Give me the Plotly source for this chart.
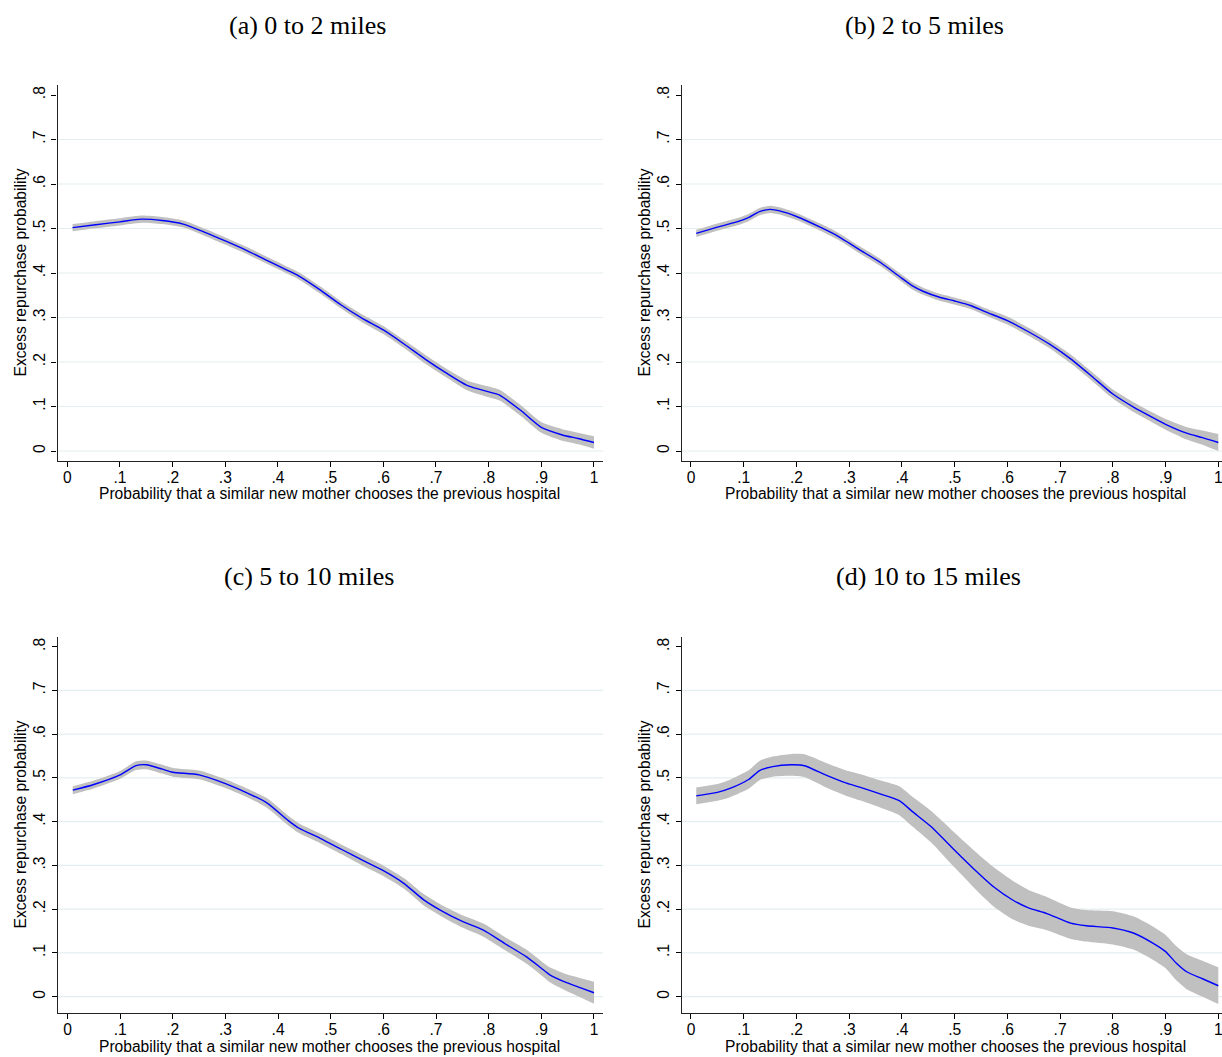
import plotly.graph_objects as go

W, H = 1222, 1057

panel_titles = ["(a) 0 to 2 miles", "(b) 2 to 5 miles", "(c) 5 to 10 miles", "(d) 10 to 15 miles"]
x_title = "Probability that a similar new mother chooses the previous hospital"
y_title = "Excess repurchase probability"
x_tickvals = [0, .1, .2, .3, .4, .5, .6, .7, .8, .9, 1]
x_ticktext = ["0", ".1", ".2", ".3", ".4", ".5", ".6", ".7", ".8", ".9", "1"]
y_tickvals = [0, .1, .2, .3, .4, .5, .6, .7, .8]
y_ticktext = ["0", ".1", ".2", ".3", ".4", ".5", ".6", ".7", ".8"]
grid_vals = [0, .1, .2, .3, .4, .5, .6, .7]

# Panel (a) 0 to 2 miles
a_x = [0.01, 0.05, 0.10, 0.14, 0.18, 0.22, 0.26, 0.30, 0.34, 0.38, 0.42, 0.44, 0.48, 0.52,
       0.56, 0.60, 0.64, 0.68, 0.72, 0.76, 0.80, 0.82, 0.86, 0.90, 0.94, 0.97, 1.00]
a_y = [0.502, 0.508, 0.515, 0.521, 0.518, 0.510, 0.492, 0.472, 0.451, 0.428, 0.405, 0.393, 0.362, 0.328,
       0.298, 0.272, 0.240, 0.206, 0.175, 0.147, 0.133, 0.126, 0.092, 0.053, 0.036, 0.028, 0.019]
a_hw = [0.008, 0.008, 0.008, 0.008, 0.008, 0.008, 0.008, 0.008, 0.008, 0.008, 0.008, 0.008, 0.008, 0.008,
        0.009, 0.009, 0.009, 0.010, 0.010, 0.011, 0.012, 0.012, 0.012, 0.012, 0.013, 0.013, 0.014]

# Panel (b) 2 to 5 miles
b_x = [0.01, 0.05, 0.09, 0.11, 0.13, 0.15, 0.17, 0.20, 0.245, 0.28, 0.30, 0.32, 0.36, 0.40, 0.42, 0.44,
       0.47, 0.50, 0.53, 0.56, 0.60, 0.64, 0.68, 0.72, 0.76, 0.80, 0.84, 0.86, 0.90, 0.94, 0.97, 1.00]
b_y = [0.489, 0.503, 0.516, 0.525, 0.538, 0.543, 0.539, 0.527, 0.503, 0.482, 0.467, 0.452, 0.423, 0.388, 0.371, 0.359,
       0.346, 0.337, 0.327, 0.312, 0.293, 0.268, 0.240, 0.207, 0.168, 0.128, 0.098, 0.085, 0.060, 0.040, 0.030, 0.019]
b_hw = [0.008, 0.008, 0.008, 0.008, 0.008, 0.008, 0.008, 0.008, 0.008, 0.008, 0.008, 0.008, 0.008, 0.008, 0.008, 0.008,
        0.008, 0.008, 0.008, 0.008, 0.009, 0.009, 0.009, 0.010, 0.010, 0.010, 0.011, 0.011, 0.012, 0.014, 0.016, 0.019]

# Panel (c) 5 to 10 miles
c_x = [0.01, 0.05, 0.10, 0.13, 0.15, 0.18, 0.20, 0.25, 0.30, 0.35, 0.38, 0.42, 0.44, 0.48, 0.52, 0.56,
       0.60, 0.64, 0.676, 0.714, 0.75, 0.79, 0.83, 0.872, 0.90, 0.916, 0.948, 0.975, 1.00]
c_y = [0.472, 0.485, 0.507, 0.528, 0.530, 0.520, 0.513, 0.507, 0.487, 0.461, 0.442, 0.402, 0.385, 0.362, 0.337, 0.312,
       0.288, 0.258, 0.222, 0.194, 0.172, 0.152, 0.122, 0.091, 0.065, 0.050, 0.032, 0.020, 0.009]
c_hw = [0.009, 0.009, 0.009, 0.010, 0.010, 0.010, 0.010, 0.010, 0.010, 0.010, 0.011, 0.011, 0.011, 0.011, 0.011, 0.012,
        0.012, 0.012, 0.013, 0.013, 0.014, 0.015, 0.015, 0.016, 0.016, 0.017, 0.019, 0.022, 0.025]

# Panel (d) 10 to 15 miles
d_x = [0.01, 0.05, 0.074, 0.11, 0.13, 0.155, 0.19, 0.215, 0.255, 0.295, 0.32, 0.36, 0.395, 0.42, 0.455, 0.50,
       0.54, 0.575, 0.61, 0.64, 0.675, 0.72, 0.75, 0.80, 0.84, 0.875, 0.90, 0.92, 0.94, 0.97, 1.00]
d_y = [0.459, 0.467, 0.476, 0.497, 0.517, 0.526, 0.530, 0.528, 0.507, 0.488, 0.479, 0.463, 0.448, 0.423, 0.389, 0.335,
       0.288, 0.250, 0.221, 0.203, 0.190, 0.168, 0.162, 0.157, 0.145, 0.123, 0.103, 0.077, 0.057, 0.041, 0.025]
d_hw = [0.019, 0.019, 0.020, 0.021, 0.022, 0.023, 0.025, 0.026, 0.028, 0.029, 0.030, 0.031, 0.033, 0.034, 0.036, 0.040,
        0.043, 0.045, 0.044, 0.041, 0.038, 0.036, 0.036, 0.038, 0.038, 0.038, 0.038, 0.039, 0.040, 0.041, 0.042]

panels = [(a_x, a_y, a_hw), (b_x, b_y, b_hw), (c_x, c_y, c_hw), (d_x, d_y, d_hw)]

# layout geometry (pixels -> paper fractions)
x_domains = [[57.5 / W, 603.3 / W], [681.7 / W, 1.0], [57.7 / W, 603.3 / W], [681.7 / W, 1.0]]
y_domains = [[1 - 460.7 / H, 1 - 85 / H], [1 - 460.7 / H, 1 - 85 / H],
             [1 - 1013.3 / H, 1 - 637.3 / H], [1 - 1013.3 / H, 1 - 637.3 / H]]
x_ranges = [[-0.0186, 1.0177], [-0.0176, 1.007], [-0.0186, 1.0177], [-0.0176, 1.007]]
y_ranges = [[-0.0218, 0.8225], [-0.0218, 0.8225], [-0.038, 0.8215], [-0.038, 0.8215]]
title_pos = [(307, 26), (924, 26), (309, 576), (928, 576)]
xtitle_pos = [(329, 493), (955, 493), (329, 1046), (955, 1046)]
ytitle_pos = [(19.5, 273), (643.5, 273), (19.5, 825), (643.5, 825)]

BAND = "#c0c0c0"
LINE = "#0000ff"
GRID = "#e3eef0"
SANS = "Liberation Sans, Arial, sans-serif"
SERIF = "Liberation Serif, Times New Roman, serif"
FS = 15.6

fig = go.Figure()
layout = dict(width=W, height=H, margin=dict(l=0, r=0, t=0, b=0),
              paper_bgcolor="white", plot_bgcolor="white", showlegend=False)
shapes = []
annotations = []

for i, (px, py, phw) in enumerate(panels):
    n = i + 1
    xa = "x" if n == 1 else f"x{n}"
    ya = "y" if n == 1 else f"y{n}"
    lo = [v - h for v, h in zip(py, phw)]
    hi = [v + h for v, h in zip(py, phw)]
    fig.add_trace(go.Scatter(x=px, y=lo, mode="lines", line=dict(width=0, color=BAND, shape="spline", smoothing=0.6),
                             xaxis=xa, yaxis=ya, hoverinfo="skip"))
    fig.add_trace(go.Scatter(x=px, y=hi, mode="lines", fill="tonexty", fillcolor=BAND,
                             line=dict(width=0, color=BAND, shape="spline", smoothing=0.6),
                             xaxis=xa, yaxis=ya, hoverinfo="skip"))
    fig.add_trace(go.Scatter(x=px, y=py, mode="lines", line=dict(width=1.4, color=LINE, shape="spline", smoothing=0.6),
                             xaxis=xa, yaxis=ya))
    xkey = "xaxis" if n == 1 else f"xaxis{n}"
    ykey = "yaxis" if n == 1 else f"yaxis{n}"
    layout[xkey] = dict(domain=x_domains[i], range=x_ranges[i], anchor=ya,
                        tickmode="array", tickvals=x_tickvals, ticktext=x_ticktext,
                        showline=True, linecolor="#222222", linewidth=1.3, ticks="outside", ticklen=5,
                        tickwidth=1, tickcolor="black", showgrid=False, zeroline=False,
                        ticklabeloverflow="allow", ticklabelstandoff=-3,
                        tickfont=dict(family=SANS, size=FS, color="black"))
    layout[ykey] = dict(domain=y_domains[i], range=y_ranges[i], anchor=xa,
                        tickmode="array", tickvals=y_tickvals, ticktext=y_ticktext, tickangle=-90,
                        showline=True, linecolor="#222222", linewidth=1.3, ticks="outside", ticklen=5,
                        tickwidth=1, tickcolor="black", showgrid=False, zeroline=False,
                        ticklabelstandoff=0,
                        tickfont=dict(family=SANS, size=FS, color="black"))
    for g in grid_vals:
        shapes.append(dict(type="line", xref=f"{xa} domain", yref=ya, x0=0, x1=1, y0=g, y1=g,
                           line=dict(color=GRID, width=1.2), layer="below"))
    tx, ty = title_pos[i]
    annotations.append(dict(text=panel_titles[i], xref="paper", yref="paper", x=tx / W, y=1 - ty / H,
                            xanchor="center", yanchor="middle", showarrow=False,
                            font=dict(family=SERIF, size=26, color="black")))
    xx, xy = xtitle_pos[i]
    annotations.append(dict(text=x_title, xref="paper", yref="paper", x=xx / W, y=1 - xy / H,
                            xanchor="center", yanchor="middle", showarrow=False,
                            font=dict(family=SANS, size=FS, color="black")))
    yx, yy = ytitle_pos[i]
    annotations.append(dict(text=y_title, xref="paper", yref="paper", x=yx / W, y=1 - yy / H,
                            xanchor="center", yanchor="middle", showarrow=False, textangle=-90,
                            font=dict(family=SANS, size=FS, color="black")))

layout["shapes"] = shapes
layout["annotations"] = annotations
fig.update_layout(**layout)
fig.write_html("out.html")
